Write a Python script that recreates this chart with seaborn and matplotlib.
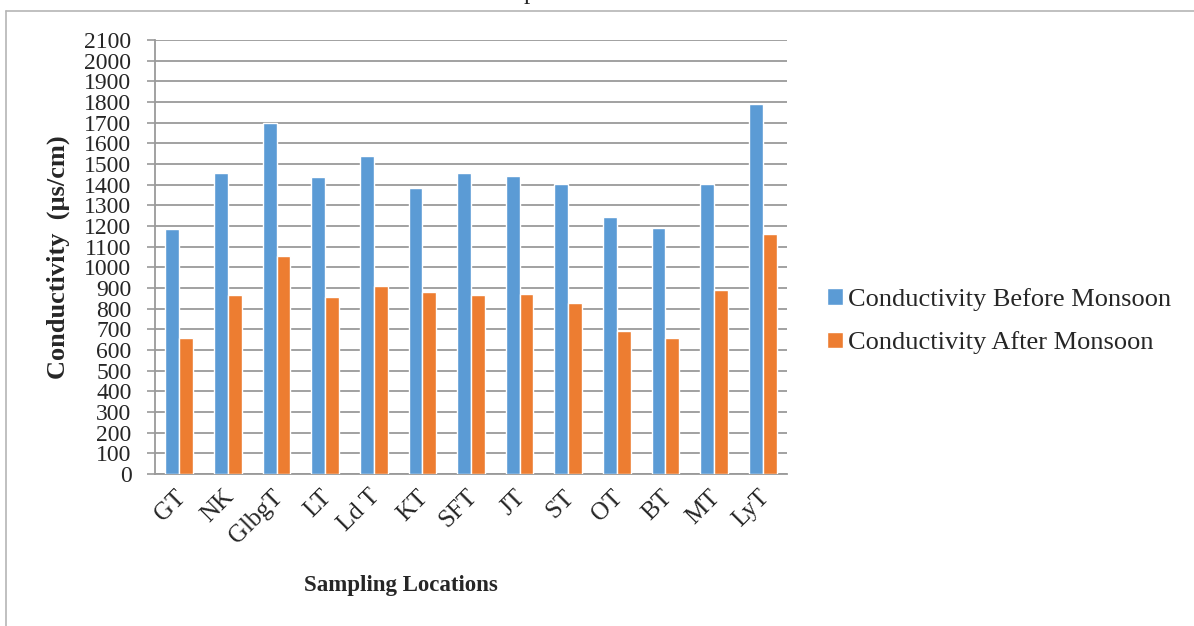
import matplotlib
matplotlib.use("Agg")
import matplotlib.pyplot as plt
import seaborn as sns
import pandas as pd
from matplotlib.lines import Line2D
from matplotlib.transforms import ScaledTranslation

# Sampling sites and conductivity readings (µs/cm)
locations = ["GT", "NK", "GlbgT", "LT", "Ld T", "KT", "SFT", "JT", "ST", "OT", "BT", "MT", "LyT"]
before_monsoon = [1185, 1458, 1700, 1438, 1538, 1384, 1458, 1441, 1404, 1242, 1190, 1402, 1788]
after_monsoon = [659, 866, 1056, 856, 911, 880, 866, 871, 826, 690, 659, 890, 1161]
series_names = ["Conductivity Before Monsoon", "Conductivity After Monsoon"]
y_ticks = list(range(0, 2101, 100))

df = pd.DataFrame({
    "Location": locations * 2,
    "Conductivity": before_monsoon + after_monsoon,
    "Series": [series_names[0]] * len(locations) + [series_names[1]] * len(locations),
})

sns.set_theme(style="white")
plt.rcParams["font.family"] = ["Liberation Serif", "DejaVu Serif"]

W, H = 1194, 626
fig = plt.figure(figsize=(W / 100, H / 100), dpi=100)
ax_left, ax_right, ax_top, ax_bottom = 155, 787, 40, 474
ax = fig.add_axes([ax_left / W, 1 - ax_bottom / H,
                   (ax_right - ax_left) / W, (ax_bottom - ax_top) / H])

palette = {series_names[0]: "#5B9BD5", series_names[1]: "#ED7D31"}
sns.barplot(data=df, x="Location", y="Conductivity", hue="Series",
            palette=palette, width=0.57, saturation=1, ax=ax, zorder=3)

grid_color = "#9a9a9a"
ax.set_ylim(0, 2100)
ax.set_xlim(-0.5, len(locations) - 0.5)
ax.set_yticks(y_ticks)
ax.set_yticklabels([str(v) for v in y_ticks], fontsize=17)
ax.yaxis.grid(True, color=grid_color, linewidth=1.3, zorder=0)
ax.set_axisbelow(True)

for side in ["top", "right"]:
    ax.spines[side].set_visible(False)
for side in ["left", "bottom"]:
    ax.spines[side].set_color(grid_color)
    ax.spines[side].set_linewidth(1.3)
ax.tick_params(axis="y", which="both", left=True, length=6, width=1.2,
               color=grid_color, pad=11)
ax.tick_params(axis="x", bottom=False, pad=4)

# Rotated category labels, nudged slightly left of each group centre
shift = ScaledTranslation(-5 / 100, 2 / 100, fig.dpi_scale_trans)
for tick in ax.xaxis.get_major_ticks():
    lbl = tick.label1
    lbl.set_rotation(45)
    lbl.set_ha("right")
    lbl.set_va("top")
    lbl.set_rotation_mode("anchor")
    lbl.set_fontsize(18)
    lbl.set_transform(lbl.get_transform() + shift)

ax.set_xlabel("Sampling Locations", fontsize=16.5, fontweight="bold")
ax.xaxis.set_label_coords((401 - ax_left) / (ax_right - ax_left),
                          -(586 - ax_bottom) / (ax_bottom - ax_top))
ax.xaxis.label.set_va("center")
ax.set_ylabel("Conductivity  (µs/cm)", fontsize=19, fontweight="bold")
ax.yaxis.set_label_coords(-(ax_left - 58) / (ax_right - ax_left), 0.5)
ax.yaxis.label.set_va("center")

handles, labels = ax.get_legend_handles_labels()
ax.legend(handles, labels, loc="center left",
          bbox_to_anchor=((827 - ax_left) / (ax_right - ax_left),
                          (ax_bottom - 321) / (ax_bottom - ax_top)),
          frameon=False, fontsize=19, handlelength=0.6, handleheight=0.6,
          handletextpad=0.2, labelspacing=0.78, borderaxespad=0, borderpad=0)

# Outer chart frame and the clipped heading above it
fig.add_artist(Line2D([6 / W, 1.0], [1 - 11 / H, 1 - 11 / H],
                      color="#b5b5b5", linewidth=1.2, transform=fig.transFigure))
fig.add_artist(Line2D([6 / W, 6 / W], [0.0, 1 - 11 / H],
                      color="#b5b5b5", linewidth=1.2, transform=fig.transFigure))
fig.text(530 / W, 1 + 1 / H, "p", fontsize=18, ha="center", va="baseline")

fig.savefig("out.png", dpi=100)
